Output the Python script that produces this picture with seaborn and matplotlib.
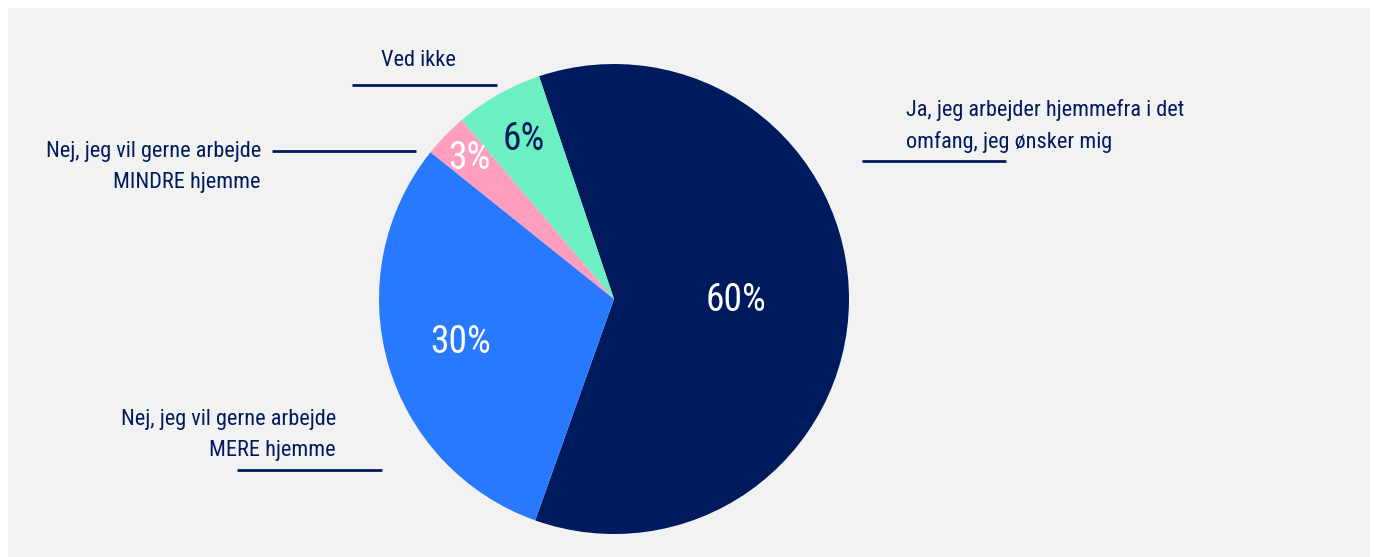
import numpy as np
import matplotlib
matplotlib.use("Agg")
import matplotlib.pyplot as plt
from matplotlib import font_manager
from matplotlib.patches import Rectangle
import seaborn as sns

# Survey answers and shares (percent)
categories = [
    "Ja, jeg arbejder hjemmefra i det\nomfang, jeg ønsker mig",
    "Nej, jeg vil gerne arbejde\nMERE hjemme",
    "Nej, jeg vil gerne arbejde\nMINDRE hjemme",
    "Ved ikke",
]
values = [60, 30, 3, 6]
pct_labels = ["60%", "30%", "3%", "6%"]
colors = ["#001a5e", "#2979ff", "#ff9ec0", "#6cf0c2"]
pct_colors = ["white", "white", "white", "#001a5e"]

sns.set_theme(style="white")

# Pick a narrow sans if one is installed
family = "Roboto"
for cand in ["Liberation Sans Narrow", "Roboto Condensed", "Open Sans Condensed"]:
    try:
        font_manager.findfont(cand, fallback_to_default=False)
        family = cand
        break
    except Exception:
        pass
plt.rcParams["font.family"] = [family, "DejaVu Sans"]

W, H = 1375, 557
fig = plt.figure(figsize=(W / 100, H / 100), dpi=100, facecolor="white")

ax = fig.add_axes([0, 0, 1, 1])
ax.patch.set_alpha(0)

# light grey panel behind the chart
ax.add_patch(Rectangle((8, 0), 1362, 549, facecolor="#f2f2f2", edgecolor="none", zorder=0))

cx, cy, r = 614, H - 299, 235
wedges, _ = ax.pie(values, colors=colors, startangle=108.6, counterclock=False,
                   center=(cx, cy), radius=r, frame=True,
                   wedgeprops=dict(linewidth=0, zorder=1))
ax.set_xlim(0, W)
ax.set_ylim(0, H)
ax.set_aspect("equal")
ax.axis("off")

navy = "#001a5e"
radial = [0.52, 0.68, 0.86, 0.78]
for w, lab, col, f in zip(wedges, pct_labels, pct_colors, radial):
    mid = np.deg2rad((w.theta1 + w.theta2) / 2)
    ax.text(cx + f * r * np.cos(mid), cy + f * r * np.sin(mid), lab,
            ha="center", va="center", color=col, fontsize=27, zorder=3)

# category labels with underline rules
fs = 16
ls = 1.62
ax.text(906, H - 126, categories[0], ha="left", va="center", color=navy,
        fontsize=fs, linespacing=ls)
ax.plot([862, 1006], [H - 161, H - 161], color=navy, lw=2, solid_capstyle="butt")

ax.text(336, H - 435, categories[1], ha="right", va="center", color=navy,
        fontsize=fs, linespacing=ls, multialignment="right")
ax.plot([237, 382], [H - 470, H - 470], color=navy, lw=2, solid_capstyle="butt")

ax.text(261, H - 167, categories[2], ha="right", va="center", color=navy,
        fontsize=fs, linespacing=ls, multialignment="right")
ax.plot([272, 416], [H - 151, H - 151], color=navy, lw=2, solid_capstyle="butt")

ax.text(418, H - 61, categories[3], ha="center", va="center", color=navy, fontsize=fs)
ax.plot([352, 497], [H - 85, H - 85], color=navy, lw=2, solid_capstyle="butt")

fig.savefig("out.png", dpi=100, facecolor="white")
